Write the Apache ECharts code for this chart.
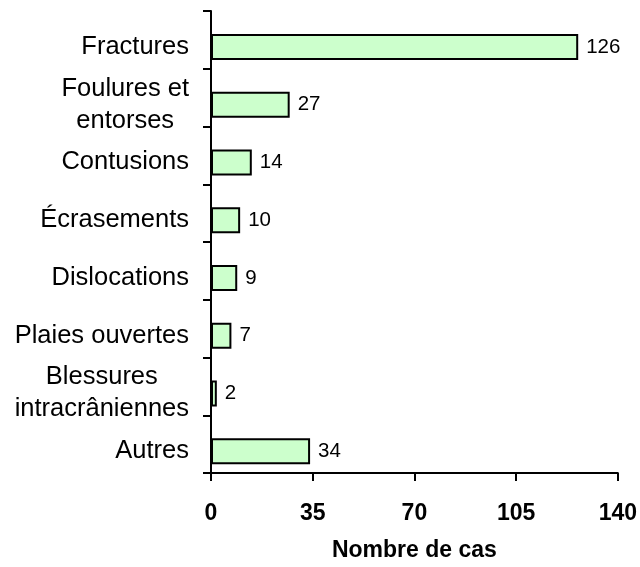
<!DOCTYPE html>
<html>
<head>
<meta charset="utf-8">
<script src="https://cdn.jsdelivr.net/npm/echarts@6/dist/echarts.min.js"></script>
<style>
html,body{margin:0;padding:0;background:#fff;}
#chart{width:640px;height:567px;}
</style>
</head>
<body>
<div id="chart"></div>
<script>
var categories = ["Fractures", "Foulures et\nentorses", "Contusions", "Écrasements", "Dislocations", "Plaies ouvertes", "Blessures\nintracrâniennes", "Autres"];
var values = [126, 27, 14, 10, 9, 7, 2, 34];
var xTicks = [0, 35, 70, 105, 140];
var xName = "Nombre de cas";

var FONT = "'Liberation Sans', Arial, sans-serif";
var chart = echarts.init(document.getElementById('chart'), null, {renderer: 'canvas'});

var option = {
  backgroundColor: '#ffffff',
  animation: false,
  grid: [
    {left: 211, top: 18, width: 408, height: 462},
    {left: 211, top: 11, width: 408, height: 462}
  ],
  xAxis: [
    {
      gridIndex: 0, type: 'value', min: xTicks[0], max: xTicks[xTicks.length - 1], interval: 35,
      show: false
    },
    {
      gridIndex: 1, type: 'value', min: xTicks[0], max: xTicks[xTicks.length - 1], interval: 35,
      axisLine: {show: true, lineStyle: {color: '#000', width: 2}},
      axisTick: {show: true, length: 8, lineStyle: {color: '#000', width: 2}},
      splitLine: {show: false},
      axisLabel: {
        margin: 29, color: '#000', fontFamily: FONT, fontSize: 23, fontWeight: 'bold',
        formatter: function (v) { return xTicks.indexOf(v) >= 0 ? String(v) : ''; }
      },
      name: xName, nameLocation: 'middle', nameGap: 66,
      nameTextStyle: {color: '#000', fontFamily: FONT, fontSize: 23, fontWeight: 'bold'}
    }
  ],
  yAxis: [
    {
      gridIndex: 0, type: 'category', data: categories, inverse: true,
      axisLine: {show: false}, axisTick: {show: false}, splitLine: {show: false},
      axisLabel: {
        margin: 22, color: '#000', fontFamily: FONT, fontSize: 25.5, lineHeight: 32,
        formatter: function (v) {
          return v.split('\n').map(function (l) { return '{c|' + l + '}'; }).join('\n');
        },
        rich: {c: {align: 'center', color: '#000', fontFamily: FONT, fontSize: 25.5, lineHeight: 32}}
      }
    },
    {
      gridIndex: 1, type: 'category', data: categories, inverse: true,
      axisLine: {show: true, lineStyle: {color: '#000', width: 2}},
      axisTick: {show: true, length: 8, lineStyle: {color: '#000', width: 2}},
      axisLabel: {show: false}, splitLine: {show: false}
    }
  ],
  series: [
    {
      type: 'bar', xAxisIndex: 0, yAxisIndex: 0, data: values,
      barWidth: 26,
      itemStyle: {color: '#ccffcc', borderColor: '#000', borderWidth: 2},
      label: {
        show: true, position: 'right', distance: 8, color: '#000',
        fontFamily: FONT, fontSize: 20.5
      }
    }
  ]
};
chart.setOption(option);
</script>
</body>
</html>
